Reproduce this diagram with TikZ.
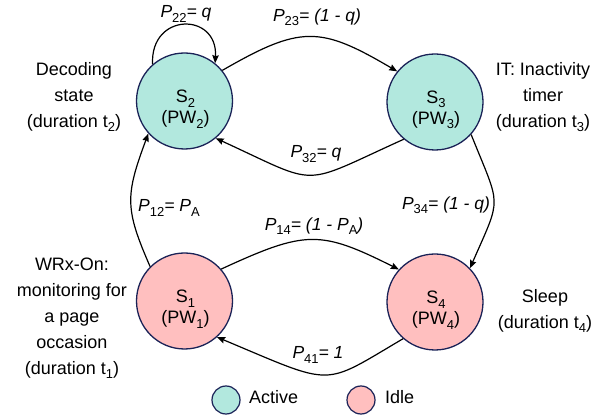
\documentclass[tikz,border=0pt]{standalone}
\usepackage{fontspec}
\setmainfont{Liberation Sans}
\usetikzlibrary{arrows.meta}
\definecolor{activefill}{RGB}{178,232,222}
\definecolor{idlefill}{RGB}{255,191,191}
\definecolor{rim}{RGB}{26,34,87}
\newcommand{\lsub}[1]{\raisebox{-4.5pt}{\fontsize{13}{13}\selectfont\upshape #1}}
\begin{document}
\begin{tikzpicture}[x=1pt,y=-1pt,
  statenode/.style={circle, draw=rim, line width=1.3pt, minimum size=96pt, inner sep=0pt},
  stext/.style={align=center, font=\fontsize{18}{21}\selectfont, inner sep=0pt},
  side/.style={align=center, font=\fontsize{18}{26}\selectfont, inner sep=0pt},
  plabel/.style={font=\fontsize{17.5}{20}\selectfont\itshape, inner sep=0pt},
  conn/.style={line width=1.2pt, -{Stealth[length=8pt,width=6.5pt,inset=1pt]}},
  legendnode/.style={circle, draw=rim, line width=1.2pt, minimum size=28pt, inner sep=0pt}]
\useasboundingbox[fill=white] (0,0) rectangle (611,419);

% states
\node[statenode, fill=activefill] (s2) at (184.5,101) {};
\node[statenode, fill=activefill] (s3) at (435,102) {};
\node[statenode, fill=idlefill] (s1) at (184.5,301) {};
\node[statenode, fill=idlefill] (s4) at (435,302) {};
\node[stext] (t2) at (185.5,109) {S\lsub{2}\\(PW\lsub{2})};
\node[stext] (t3) at (436,110) {S\lsub{3}\\(PW\lsub{3})};
\node[stext] (t1) at (185.5,309) {S\lsub{1}\\(PW\lsub{1})};
\node[stext] (t4) at (436,310) {S\lsub{4}\\(PW\lsub{4})};

% side descriptions
\node[side] (d2) at (74,97) {Decoding\\state\\(duration t\lsub{2})};
\node[side] (d3) at (543,97) {IT: Inactivity\\timer\\(duration t\lsub{3})};
\node[side] (d1) at (72,318) {WRx-On:\\monitoring for\\a page\\occasion\\(duration t\lsub{1})};
\node[side] (d4) at (545,311) {Sleep\\(duration t\lsub{4})};

% connectors
\draw[conn] (s2.131) .. controls (150,12) and (218,12) .. (s2.51);
\draw[conn] (s2.39) .. controls (301,25) and (320,26) .. (s3.141);
\draw[conn] (s3.230) .. controls (298,187) and (322,187) .. (s2.310);
\draw[conn] (s1.135) .. controls (125,209) and (125,196) .. (s2.222);
\draw[conn] (s1.41) .. controls (306,230) and (320,230) .. (s4.138);
\draw[conn] (s3.318) .. controls (501,209) and (502,195) .. (s4.44);
\draw[conn] (s4.229) .. controls (321,387) and (336,387) .. (s1.312);

% transition labels
\node[plabel] (p22) at (186,14) {P\lsub{22}= q};
\node[plabel] (p23) at (317,17) {P\lsub{23}= (1 - q)};
\node[plabel] (p32) at (316,154) {P\lsub{32}= q};
\node[plabel] (p12) at (169,208) {P\lsub{12}= P\lsub{A}};
\node[plabel] (p14) at (314,226) {P\lsub{14}= (1 - P\lsub{A})};
\node[plabel] (p34) at (446,205) {P\lsub{34}= (1 - q)};
\node[plabel] (p41) at (318,355) {P\lsub{41}= 1};

% legend
\node[legendnode, fill=activefill] (la) at (226,400) {};
\node[anchor=west, font=\fontsize{18}{21}\selectfont, inner sep=0pt] (lat) at (249,397) {Active};
\node[legendnode, fill=idlefill] (li) at (361,400) {};
\node[anchor=west, font=\fontsize{18}{21}\selectfont, inner sep=0pt] (lit) at (385,397) {Idle};
\end{tikzpicture}
\end{document}
